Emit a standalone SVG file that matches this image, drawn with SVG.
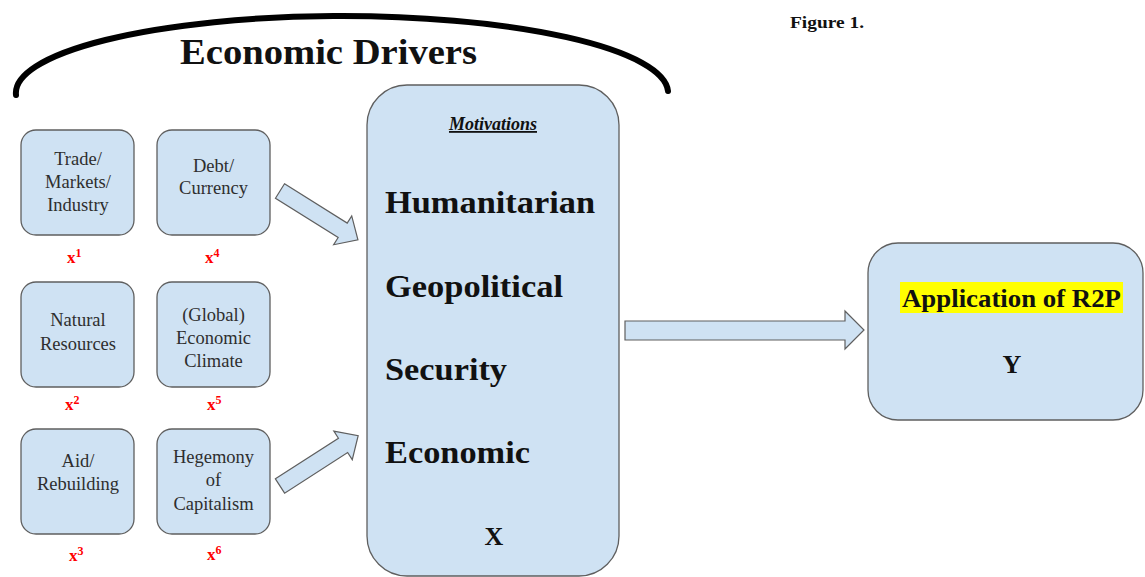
<svg xmlns="http://www.w3.org/2000/svg" width="1145" height="577" viewBox="0 0 1145 577">
  <style>
    .box { fill: #cfe2f3; stroke: #5f5f5f; stroke-width: 1.3; }
    .arrow { fill: #cfe2f3; stroke: #5f5f5f; stroke-width: 1.2; stroke-linejoin: miter; }
    .small { font-family: "Liberation Serif", serif; font-size: 18.5px; fill: #2e2e2e; text-anchor: middle; }
    .big { font-family: "Liberation Serif", serif; font-size: 32px; font-weight: bold; fill: #111; }
    .var { font-family: "Liberation Serif", serif; font-weight: bold; fill: #ff0000; font-size: 17px; }
    .var tspan { font-size: 12px; }
    .title { font-family: "Liberation Serif", serif; font-weight: bold; fill: #111; }
  </style>
  <rect width="1145" height="577" fill="#ffffff"/>

  <!-- caption -->
  <text class="title" x="790" y="28" font-size="17" textLength="74" lengthAdjust="spacingAndGlyphs">Figure 1.</text>

  <!-- bracket over the drivers -->
  <g id="drivers-bracket">
    <path d="M 16 95 A 326 77 0 0 1 668 91" fill="none" stroke="#000" stroke-width="6" stroke-linecap="round"/>
    <text class="title" x="180" y="64" font-size="35" textLength="297" lengthAdjust="spacingAndGlyphs">Economic Drivers</text>
  </g>

  <!-- driver boxes -->
  <g id="trade">
    <rect class="box" x="21" y="130" width="113" height="105" rx="15"/>
    <text class="small" x="78" y="165">Trade/</text>
    <text class="small" x="78" y="188">Markets/</text>
    <text class="small" x="78" y="211">Industry</text>
    <text class="var" x="67" y="263">x<tspan dy="-6">1</tspan></text>
  </g>
  <g id="resources">
    <rect class="box" x="21" y="282" width="113" height="105" rx="15"/>
    <text class="small" x="78" y="326">Natural</text>
    <text class="small" x="78" y="350">Resources</text>
    <text class="var" x="65" y="410">x<tspan dy="-6">2</tspan></text>
  </g>
  <g id="aid">
    <rect class="box" x="21" y="429" width="113" height="105" rx="15"/>
    <text class="small" x="78" y="467">Aid/</text>
    <text class="small" x="78" y="490">Rebuilding</text>
    <text class="var" x="69" y="561">x<tspan dy="-6">3</tspan></text>
  </g>
  <g id="debt">
    <rect class="box" x="157" y="130" width="113" height="105" rx="15"/>
    <text class="small" x="213.5" y="172">Debt/</text>
    <text class="small" x="213.5" y="194">Currency</text>
    <text class="var" x="205" y="263">x<tspan dy="-6">4</tspan></text>
  </g>
  <g id="climate">
    <rect class="box" x="157" y="282" width="113" height="105" rx="15"/>
    <text class="small" x="213.5" y="321">(Global)</text>
    <text class="small" x="213.5" y="344">Economic</text>
    <text class="small" x="213.5" y="367">Climate</text>
    <text class="var" x="207" y="410">x<tspan dy="-6">5</tspan></text>
  </g>
  <g id="capitalism">
    <rect class="box" x="157" y="429" width="113" height="105" rx="15"/>
    <text class="small" x="213.5" y="463">Hegemony</text>
    <text class="small" x="213.5" y="486">of</text>
    <text class="small" x="213.5" y="510">Capitalism</text>
    <text class="var" x="207" y="560">x<tspan dy="-6">6</tspan></text>
  </g>

  <!-- motivations (X) -->
  <g id="motivations">
    <rect class="box" x="367" y="85" width="252" height="491" rx="40"/>
    <text class="title" x="493" y="130" font-size="18" font-style="italic" text-anchor="middle" text-decoration="underline">Motivations</text>
    <text class="big" x="385" y="213" textLength="210" lengthAdjust="spacingAndGlyphs">Humanitarian</text>
    <text class="big" x="385" y="297" textLength="178" lengthAdjust="spacingAndGlyphs">Geopolitical</text>
    <text class="big" x="385" y="380" textLength="122" lengthAdjust="spacingAndGlyphs">Security</text>
    <text class="big" x="385" y="463" textLength="145" lengthAdjust="spacingAndGlyphs">Economic</text>
    <text class="title" x="494" y="545" font-size="26" text-anchor="middle">X</text>
  </g>

  <!-- outcome (Y) -->
  <g id="r2p">
    <rect class="box" x="868" y="243" width="275" height="177" rx="30"/>
    <rect x="900" y="282" width="223" height="31" fill="#ffff00"/>
    <text class="title" x="902" y="307" font-size="25" textLength="219" lengthAdjust="spacingAndGlyphs">Application of R2P</text>
    <text class="title" x="1012" y="373" font-size="26" text-anchor="middle">Y</text>
  </g>

  <!-- connectors -->
  <g id="connectors">
    <polygon class="arrow" points="0,-8.5 74,-8.5 74,-17 92,0 74,17 74,8.5 0,8.5" transform="translate(280,191) rotate(32.1)"/>
    <polygon class="arrow" points="0,-8.5 75,-8.5 75,-17 93,0 75,17 75,8.5 0,8.5" transform="translate(280,486) rotate(-32.8)"/>
    <polygon class="arrow" points="625,321 845,321 845,311 864,330 845,349 845,340 625,340"/>
  </g>
</svg>
